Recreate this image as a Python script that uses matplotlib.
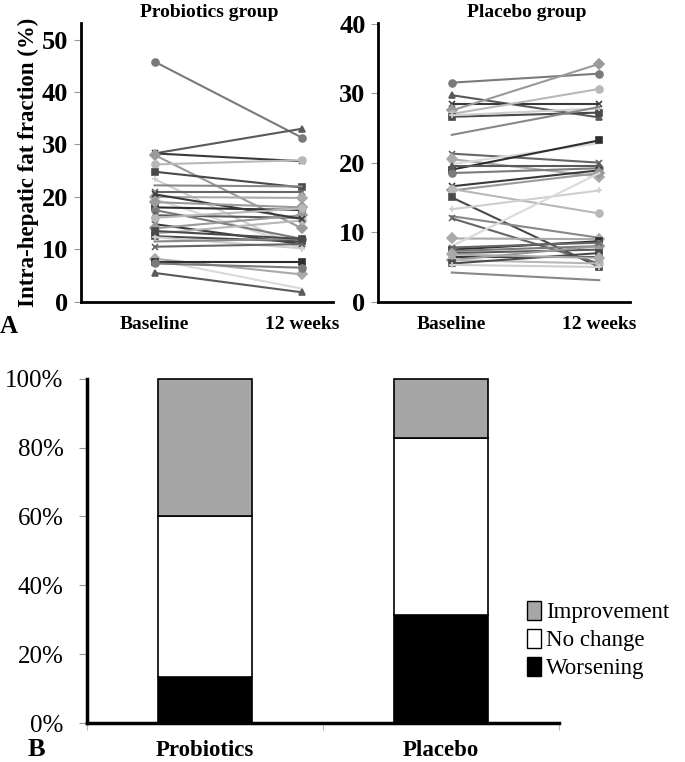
import matplotlib
matplotlib.use("Agg")
import matplotlib.pyplot as plt
from matplotlib.patches import Patch

plt.rcParams['font.family'] = ['Liberation Serif', 'DejaVu Serif']

timepoints = ['Baseline', '12 weeks']

# probiotics group: (baseline, 12 weeks)
probiotics_base = [45.8, 28.3, 28.3, 28.0, 26.2, 24.8, 23.4, 22.2, 21.0, 20.0,
                   19.6, 18.0, 17.5, 16.5, 14.8, 14.0, 13.0, 12.5, 12.3, 11.5,
                   10.5, 8.2, 8.0, 7.5, 7.3, 5.5, 20.5, 19.0, 16.0, 13.5]
probiotics_12w = [31.3, 33.0, 26.8, 14.0, 27.0, 21.8, 10.0, 22.0, 21.0, 19.8,
                  10.5, 17.5, 12.0, 16.0, 11.0, 16.5, 15.5, 11.5, 10.2, 12.0,
                  11.0, 5.2, 2.5, 7.5, 6.5, 1.8, 15.8, 18.0, 17.8, 12.0]

# placebo group: (baseline, 12 weeks)
placebo_base = [31.5, 29.7, 28.5, 27.5, 27.0, 26.6, 26.8, 24.0, 21.3, 20.5,
                19.8, 19.0, 18.5, 19.5, 16.6, 16.0, 16.2, 15.0, 13.3, 12.3,
                12.0, 9.1, 8.0, 7.5, 7.3, 7.0, 6.5, 6.0, 6.0, 5.5,
                5.3, 4.2, 7.8, 6.8]
placebo_12w = [32.8, 26.5, 28.5, 34.2, 30.6, 27.2, 27.8, 28.0, 20.0, 18.0,
               22.8, 23.2, 19.2, 19.5, 18.9, 18.5, 12.7, 5.0, 16.0, 9.2,
               5.5, 9.0, 18.5, 8.7, 8.0, 7.5, 6.5, 8.0, 5.5, 7.0,
               5.0, 3.1, 8.5, 6.3]

# response categories (%)
groups = ['Probiotics', 'Placebo']
worsening = [13.3, 31.4]
no_change = [46.7, 51.4]
improvement = [40.0, 17.2]

grays = ['#7a7a7a', '#5a5a5a', '#3a3a3a', '#9a9a9a', '#b8b8b8', '#4a4a4a',
         '#cfcfcf', '#888888', '#666666', '#aaaaaa', '#dadada', '#2e2e2e']
markers = ['o', 's', '', 'D', 'x', '^', '+', 's', 'o', 'D', 'x', '']

fig = plt.figure(figsize=(6.85, 7.62), dpi=100)


def spaghetti(ax, base, wk, ymax, yticks, title, title_x):
    for i, (a, b) in enumerate(zip(base, wk)):
        ax.plot([0, 1], [a, b], color=grays[i % len(grays)], lw=1.5,
                marker=markers[(i * 5) % len(markers)], ms=5, mew=1.2)
    ax.set_xlim(-0.5, 1.21)
    ax.set_ylim(0, ymax)
    ax.set_yticks(yticks)
    ax.set_xticks([0, 1])
    ax.set_xticklabels(timepoints, fontweight='bold', fontsize=14)
    ax.tick_params(axis='x', length=0, pad=10)
    ax.tick_params(axis='y', length=5, color='#999999', labelsize=19, pad=4)
    for lab in ax.get_yticklabels():
        lab.set_fontweight('bold')
    for s in ['top', 'right']:
        ax.spines[s].set_visible(False)
    for s in ['left', 'bottom']:
        ax.spines[s].set_linewidth(2)
    t = ax.set_title(title, fontweight='bold', fontsize=14, pad=4)
    t.set_position((title_x, 1.0))


ax1 = fig.add_axes([0.118, 0.604, 0.368, 0.366])
spaghetti(ax1, probiotics_base, probiotics_12w, 53.2, [0, 10, 20, 30, 40, 50],
          'Probiotics group', 0.51)
ax1.set_ylabel('Intra-hepatic fat fraction (%)', fontweight='bold',
               fontsize=16.5, labelpad=2)

ax2 = fig.add_axes([0.552, 0.604, 0.368, 0.366])
spaghetti(ax2, placebo_base, placebo_12w, 40.1, [0, 10, 20, 30, 40],
          'Placebo group', 0.59)

fig.text(0.0, 0.572, 'A', fontsize=18, fontweight='bold', va='center')

# stacked bars
ax3 = fig.add_axes([0.127, 0.051, 0.689, 0.452])
x = range(len(groups))
b1 = ax3.bar(x, worsening, width=0.4, color='black', edgecolor='black', lw=1.2)
b2 = ax3.bar(x, no_change, width=0.4, bottom=worsening, color='white',
             edgecolor='black', lw=1.2)
bot2 = [a + b for a, b in zip(worsening, no_change)]
b3 = ax3.bar(x, improvement, width=0.4, bottom=bot2, color='#a6a6a6',
             edgecolor='black', lw=1.2)
for cont in (b1, b2, b3):
    for p in cont:
        p.set_clip_on(False)
ax3.set_xlim(-0.5, 1.5)
ax3.set_ylim(0, 100)
ax3.set_yticks([0, 20, 40, 60, 80, 100])
ax3.set_yticklabels(['0%', '20%', '40%', '60%', '80%', '100%'])
ax3.tick_params(axis='y', labelsize=18, length=6, color='#999999', pad=11)
ax3.set_xticks(list(x))
ax3.set_xticklabels(groups, fontweight='bold', fontsize=16.5)
ax3.tick_params(axis='x', length=0, pad=12)
ax3.set_xticks([-0.5, 0.5, 1.5], minor=True)
ax3.tick_params(axis='x', which='minor', length=5, color='#aaaaaa')
for s in ['top', 'right']:
    ax3.spines[s].set_visible(False)
for s in ['left', 'bottom']:
    ax3.spines[s].set_linewidth(2.5)

handles = [Patch(facecolor='#a6a6a6', edgecolor='black', label='Improvement'),
           Patch(facecolor='white', edgecolor='black', label='No change'),
           Patch(facecolor='black', edgecolor='black', label='Worsening')]
fig.legend(handles=handles, loc='center left', bbox_to_anchor=(0.77, 0.16),
           frameon=False, fontsize=16.5, handlelength=0.6, handleheight=0.9,
           handletextpad=0.2, labelspacing=0.25, borderpad=0, borderaxespad=0)

fig.text(0.04, 0.016, 'B', fontsize=19, fontweight='bold', va='center')

fig.savefig('out.png', dpi=100)
